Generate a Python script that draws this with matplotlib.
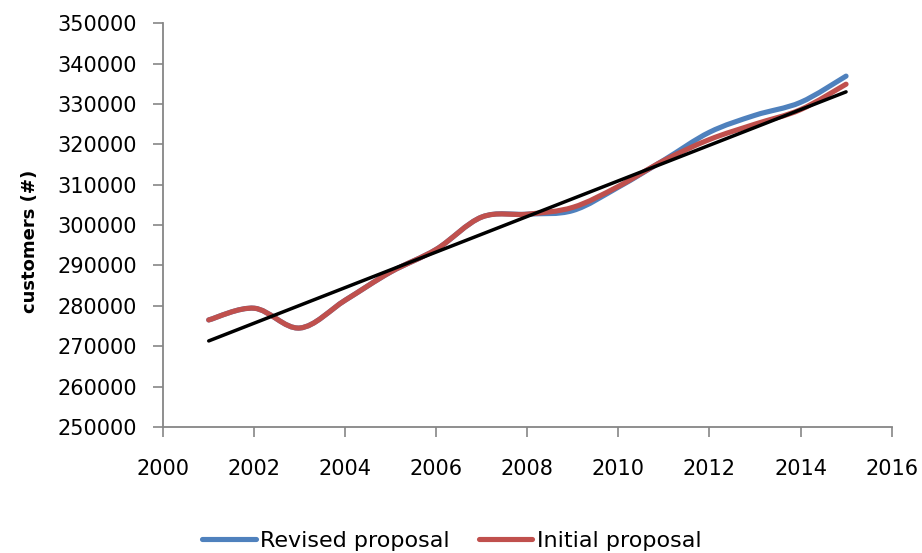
import numpy as np
import matplotlib.pyplot as plt
from matplotlib.path import Path
from matplotlib.patches import PathPatch
from matplotlib.lines import Line2D

years = [2001, 2002, 2003, 2004, 2005, 2006, 2007, 2008,
         2009, 2010, 2011, 2012, 2013, 2014, 2015]
revised = [276500, 279400, 274500, 281400, 288400, 294000, 302000, 302700,
           303600, 309400, 316100, 323000, 327200, 330400, 336900]
initial = [276500, 279400, 274500, 281400, 288400, 294000, 302000, 302700,
           304400, 309600, 316000, 321200, 325000, 328600, 334900]
trend_years = [2001, 2015]
trend_values = [271300, 333000]

BLUE = '#4F81BD'
RED = '#C0504D'
GREY = '#868686'


def smooth_path(xs, ys):
    # excel style smoothed line: catmull-rom as cubic bezier
    p = np.column_stack([xs, ys]).astype(float)
    ext = np.vstack([p[0], p, p[-1]])
    verts = [p[0]]
    codes = [Path.MOVETO]
    for i in range(len(p) - 1):
        p0, p1, p2, p3 = ext[i], ext[i + 1], ext[i + 2], ext[i + 3]
        verts += [p1 + (p2 - p0) / 6, p2 - (p3 - p1) / 6, p2]
        codes += [Path.CURVE4] * 3
    return Path(verts, codes)


plt.rcParams['font.family'] = ['DejaVu Sans']

fig = plt.figure(figsize=(9.22, 5.53), dpi=100)
ax = fig.add_axes([0.177, 0.228, 0.79, 0.73])

for vals, col in [(revised, BLUE), (initial, RED)]:
    ax.add_patch(PathPatch(smooth_path(years, vals), fill=False,
                           edgecolor=col, lw=3.7, capstyle='round',
                           joinstyle='round'))
ax.plot(trend_years, trend_values, color='black', lw=2.5, solid_capstyle='round')

ax.set_xlim(2000, 2016)
ax.set_ylim(250000, 350000)
ax.set_xticks(range(2000, 2017, 2))
ax.set_yticks(range(250000, 350001, 10000))
ax.tick_params(labelsize=15, colors=GREY, labelcolor='black', length=7, width=1.2)
ax.tick_params(axis='y', pad=12)
ax.tick_params(axis='x', pad=16)
for s in ['top', 'right']:
    ax.spines[s].set_visible(False)
for s in ['left', 'bottom']:
    ax.spines[s].set_color(GREY)
    ax.spines[s].set_linewidth(1.3)

ax.set_ylabel('customers (#)', fontsize=13, fontweight='bold')
ax.yaxis.set_label_coords(-0.17, 0.46)

handles = [Line2D([], [], color=BLUE, lw=3.7, solid_capstyle='round'),
           Line2D([], [], color=RED, lw=3.7, solid_capstyle='round')]
fig.legend(handles, ['Revised proposal', 'Initial proposal'], loc='center',
           bbox_to_anchor=(0.49, 0.022), ncol=2, frameon=False, fontsize=16,
           handlelength=2.4, handletextpad=0.2, columnspacing=1.3)

fig.savefig('out.png', dpi=100)
